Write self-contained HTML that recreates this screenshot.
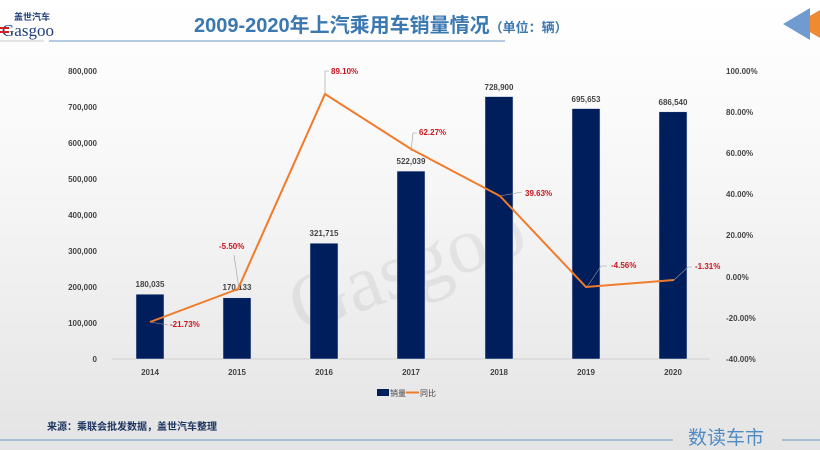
<!DOCTYPE html>
<html><head><meta charset="utf-8"><style>
body{margin:0;width:820px;height:450px;overflow:hidden;background:#f0f0f0;}
svg{display:block;font-family:"Liberation Sans","Noto Sans CJK SC",sans-serif;}
</style></head><body>
<svg width="820" height="450" viewBox="0 0 820 450">
<defs><linearGradient id="bg" x1="0" y1="0" x2="0" y2="1"><stop offset="0" stop-color="#ffffff"/><stop offset="0.35" stop-color="#f8f8f8"/><stop offset="1" stop-color="#e4e4e4"/></linearGradient></defs>
<rect width="820" height="450" fill="url(#bg)"/>
<!-- logo -->
<text x="14" y="20" font-size="9" font-weight="bold" fill="#1e3f7a">盖世汽车</text>
<text x="2" y="36" font-size="17" fill="#1e3f7a" font-family="Liberation Serif,serif">Gasgoo</text>
<rect x="0" y="27" width="9" height="2" fill="#d02020"/><rect x="0" y="31" width="9" height="2" fill="#d02020"/>
<line x1="0" y1="41" x2="44" y2="41" stroke="#ccc"/>
<!-- title -->
<text x="194" y="32" font-size="20" font-weight="bold" fill="#3b78b0">2009-2020年上汽乘用车销量情况<tspan font-size="13">（单位：辆）</tspan></text>
<line x1="49" y1="41" x2="505" y2="41" stroke="#6a98c4" stroke-width="1"/>
<polygon points="820,10 820,38 796,24" fill="#f08a30"/>
<polygon points="810,8 810,40 783,24" fill="#6f9bd0"/>
<!-- watermark -->
<g opacity="0.09" fill="#555"><text x="270" y="300" font-size="80" transform="rotate(-20 380 230)" font-family="Liberation Serif,serif">Gasgoo</text></g>
<!-- axis -->
<line x1="112" y1="359" x2="710" y2="359" stroke="#d0d0d0"/>
<g font-size="8" font-weight="bold" fill="#444" text-anchor="end">
<text x="97" y="74">800,000</text><text x="97" y="110">700,000</text><text x="97" y="146">600,000</text><text x="97" y="182">500,000</text><text x="97" y="218">400,000</text><text x="97" y="254">300,000</text><text x="97" y="290">200,000</text><text x="97" y="326">100,000</text><text x="97" y="362">0</text>
</g>
<g font-size="8" font-weight="bold" fill="#444">
<text x="726" y="74">100.00%</text><text x="726" y="115">80.00%</text><text x="726" y="156">60.00%</text><text x="726" y="197">40.00%</text><text x="726" y="238">20.00%</text><text x="726" y="280">0.00%</text><text x="726" y="321">-20.00%</text><text x="726" y="362">-40.00%</text>
</g>
<g fill="#001e5c" stroke="#dfe6f0" stroke-width="0.5">
<rect x="136" y="294.2" width="28" height="64.8"/>
<rect x="223" y="297.8" width="28" height="61.2"/>
<rect x="310" y="243.2" width="28" height="115.8"/>
<rect x="397" y="171.1" width="28" height="187.9"/>
<rect x="485" y="96.6" width="28" height="262.4"/>
<rect x="572" y="108.6" width="28" height="250.4"/>
<rect x="659" y="111.8" width="28" height="247.2"/>
</g>
<g font-size="8" font-weight="bold" fill="#444" text-anchor="middle">
<text x="150" y="287">180,035</text><text x="237" y="290">170,133</text><text x="324" y="236">321,715</text><text x="411" y="164">522,039</text><text x="499" y="90">728,900</text><text x="586" y="102">695,653</text><text x="673" y="105">686,540</text>
</g>
<g font-size="8" font-weight="bold" fill="#444" text-anchor="middle">
<text x="150" y="375">2014</text><text x="237" y="375">2015</text><text x="324" y="375">2016</text><text x="411" y="375">2017</text><text x="499" y="375">2018</text><text x="586" y="375">2019</text><text x="673" y="375">2020</text>
</g>
<g stroke="#999" stroke-width="0.6" fill="none">
<path d="M150 322 L168 325"/><path d="M239 289 L234 255"/><path d="M325 94 L325 71 L329 71"/><path d="M411 151 L413 133 L417 133"/><path d="M500 196 L522 192"/><path d="M587 287 L601 266 L607 266"/><path d="M674 280 L688 267 L692 267"/>
</g>
<polyline points="150,322 238,289 325,94 411,149 500,196 586,287 674,280" fill="none" stroke="#f07b2a" stroke-width="2"/>
<g font-size="8" font-weight="bold" fill="#c8141e">
<text x="170" y="327">-21.73%</text><text x="219" y="249">-5.50%</text><text x="331" y="74">89.10%</text><text x="419" y="135">62.27%</text><text x="525" y="196">39.63%</text><text x="611" y="268">-4.56%</text><text x="695" y="269">-1.31%</text>
</g>
<!-- legend -->
<rect x="377" y="389" width="12" height="7" fill="#001e5c"/>
<text x="390" y="396" font-size="8" fill="#444">销量</text>
<line x1="406" y1="392.5" x2="419" y2="392.5" stroke="#f07b2a" stroke-width="2"/>
<text x="420" y="396" font-size="8" fill="#444">同比</text>
<!-- footer -->
<text x="47" y="430" font-size="10" font-weight="bold" fill="#1e3560">来源：乘联会批发数据，盖世汽车整理</text>
<line x1="0" y1="440" x2="673" y2="440" stroke="#6a98c4"/>
<line x1="782" y1="440" x2="820" y2="440" stroke="#6a98c4"/>
<text x="688" y="444" font-size="19" fill="#4f8cc4">数读车市</text>
</svg>
</body></html>
